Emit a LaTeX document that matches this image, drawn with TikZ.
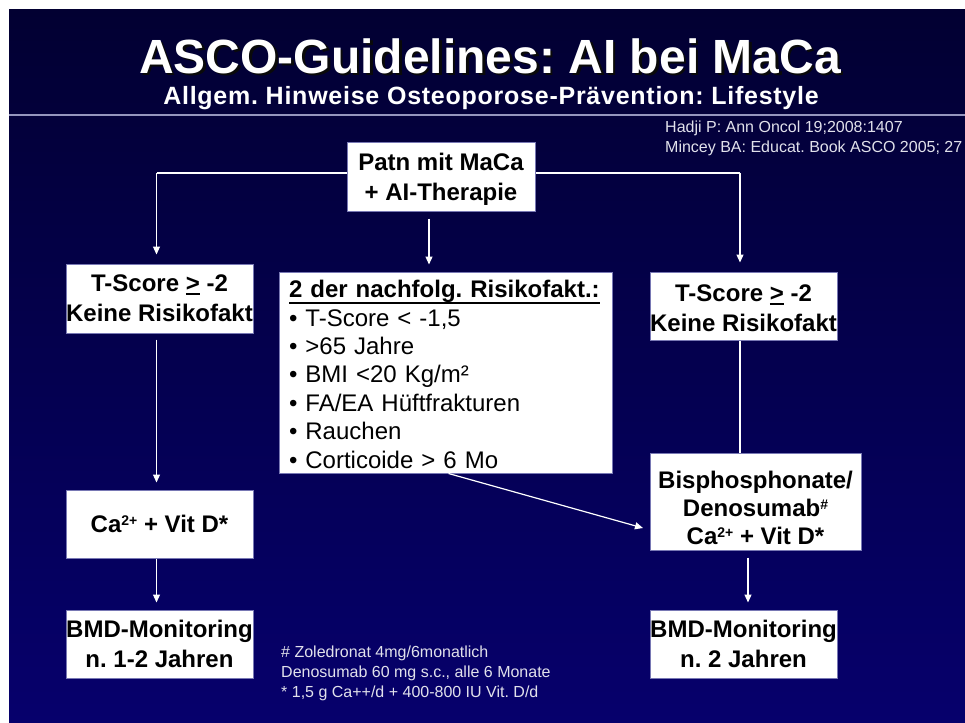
\documentclass[tikz,border=0pt]{standalone}
\usepackage{fontspec}
\setmainfont{Liberation Sans}
\newsavebox{\ulbox}
\newcommand{\myul}[2][5pt]{\sbox{\ulbox}{#2}\rlap{\raisebox{-#1}{\rule{\wd\ulbox}{1.8pt}}}\usebox{\ulbox}}
\newcommand{\sups}[1]{\raisebox{7pt}{\fontsize{14}{14}\selectfont #1}}
\newcommand{\shadowtext}[1]{\rlap{\hspace{2.5pt}\raisebox{-2.5pt}{\color{shadowc}#1}}#1}
\usetikzlibrary{arrows.meta}
\definecolor{bgtop}{RGB}{2,0,50}
\definecolor{bgbot}{RGB}{6,0,108}
\definecolor{boxline}{RGB}{120,120,180}
\definecolor{footc}{RGB}{225,225,235}
\definecolor{sepline}{RGB}{150,150,190}
\definecolor{shadowc}{RGB}{10,10,10}
\begin{document}
\frenchspacing
\begin{tikzpicture}[x=1pt,y=-1pt,
  box/.style={draw=boxline, line width=1pt, fill=white, inner sep=0pt, align=center,
    minimum width=187pt, minimum height=68pt,
    font=\fontsize{24}{30}\selectfont\bfseries, text=black},
  wire/.style={draw=white, line width=1.2pt},
  arr/.style={wire, -{Triangle[length=8pt,width=7pt]}},
  small/.style={font=\fontsize{16}{20}\selectfont, text=footc, inner sep=0pt, anchor=base west}]
\useasboundingbox (0,0) rectangle (965,722);
\fill[white] (0,0) rectangle (965,722);
\shade[top color=bgtop, bottom color=bgbot] (9,10) rectangle (965,722);
\draw[sepline, line width=2pt] (9,115) -- (965,115);

% title
\node[anchor=base, text=white, inner sep=0pt, font=\fontsize{48}{56}\selectfont\bfseries] (title) at (490,73.5) {\shadowtext{ASCO-Guidelines: AI bei MaCa}};
\node[anchor=base, text=white, inner sep=0pt, font=\fontsize{25}{30}\selectfont\bfseries\addfontfeatures{LetterSpace=3}] (sub) at (491,105) {Allgem. Hinweise Osteoporose-Prävention: Lifestyle};

% references
\node[small] (ref1) at (665,133) {Hadji P: Ann Oncol 19;2008:1407};
\node[small] (ref2) at (665,153) {Mincey BA: Educat. Book ASCO 2005; 27};

% split line behind top box
\coordinate (jl) at (156.5,173);
\coordinate (jr) at (740,173);
\draw[wire] (jl) -- (jr);

% boxes
\node[box, minimum width=188pt] (top) at (441,177) {\rule{0pt}{22pt}Patn mit MaCa\\+ AI-Therapie};
\node[box, minimum height=69pt] (tsl) at (159.5,298.5) {T-Score \myul[3pt]{>} -2\\Keine Risikofakt};
\node[box, minimum width=333pt, minimum height=201pt, align=left, text width=313pt,
      inner xsep=10pt, font=\fontsize{24}{28.4}\selectfont] (mid) at (445.5,372.5)
  {\rule{0pt}{21pt}\textbf{\myul[6pt]{2 der nachfolg. Risikofakt.:}}\\
   • T-Score < -1,5\\
   • >65 Jahre\\
   • BMI <20 Kg/m²\\
   • FA/EA Hüftfrakturen\\
   • Rauchen\\
   • Corticoide > 6 Mo};
\node[box] (tsr) at (743.5,306) {\rule{0pt}{22pt}T-Score \myul[3pt]{>} -2\\Keine Risikofakt};
\node[box, minimum width=211pt, minimum height=97pt, font=\fontsize{24}{28}\selectfont\bfseries] (bis) at (755.5,501.5) {\rule{0pt}{30pt}Bisphosphonate/\\Denosumab\sups{\#}\\Ca\sups{2+} + Vit D*};
\node[box] (ca) at (159.5,524) {Ca\sups{2+} + Vit D*};
\node[box] (bmdl) at (159.5,644) {BMD-Monitoring\\n. 1-2 Jahren};
\node[box] (bmdr) at (743.5,644) {BMD-Monitoring\\n. 2 Jahren};

% connectors
\coordinate (cx) at (429,0);
\coordinate (rx) at (748,0);
\coordinate (dend) at (643,528);
\draw[arr, shorten >=9pt] (jl) -- (jl |- tsl.north);
\draw[arr, shorten <=6pt, shorten >=7pt] (jl |- tsl.south) -- (jl |- ca.north);
\draw[arr, shorten >=7pt] (jl |- ca.south) -- (jl |- bmdl.north);
\draw[arr, shorten <=7pt, shorten >=7pt] (cx |- top.south) -- (cx |- mid.north);
\draw[arr, shorten >=9pt] (jr) -- (jr |- tsr.north);
\draw[wire] (jr |- tsr.south) -- (jr |- bis.north);
\draw[arr, shorten <=7pt, shorten >=7pt] (rx |- bis.south) -- (rx |- bmdr.north);
\draw[arr] ([xshift=3pt]mid.south) -- (dend);

% footnotes
\node[small] (fn1) at (281,657) {\# Zoledronat 4mg/6monatlich};
\node[small] (fn2) at (281,677) {Denosumab 60 mg s.c., alle 6 Monate};
\node[small] (fn3) at (281,697) {* 1,5 g Ca++/d + 400-800 IU Vit. D/d};
\end{tikzpicture}
\end{document}
